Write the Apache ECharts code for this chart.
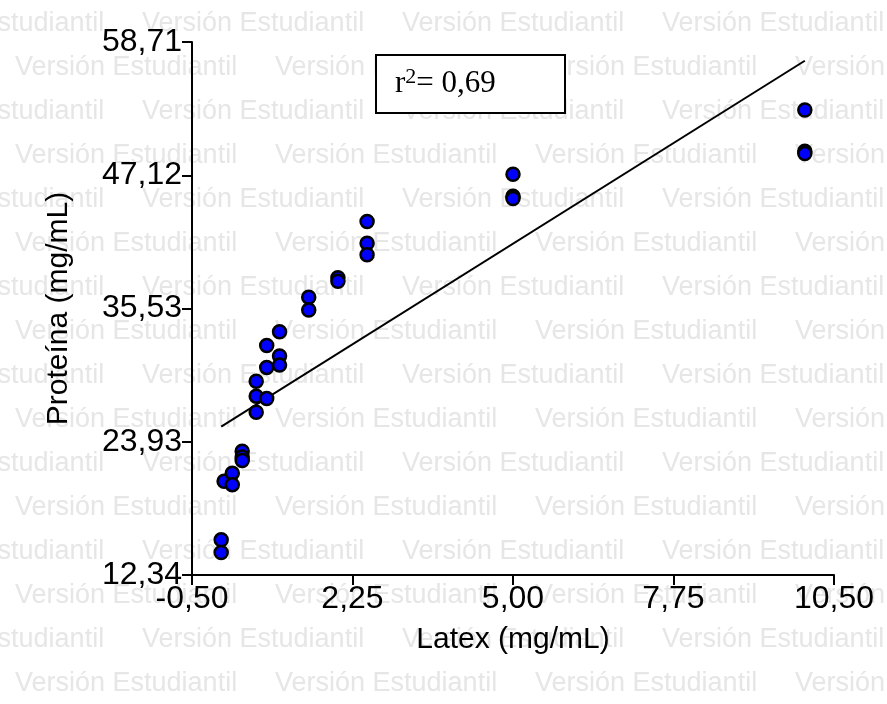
<!DOCTYPE html>
<html>
<head>
	<meta charset="UTF-8">
	<title>Latex vs Proteína</title>
	<script src="https://cdn.jsdelivr.net/npm/echarts@6/dist/echarts.min.js"></script>
	<style>
		html, body { margin: 0; padding: 0; background: #fff; }
		#main { width: 887px; height: 704px; }
	</style>
</head>
<body>
	<div id="main"></div>
	<script>

	// datos
	var xTickLabels = ['-0,50', '2,25', '5,00', '7,75', '10,50'];
	var yTickLabels = ['12,34', '23,93', '35,53', '47,12', '58,71'];

	var latexX   = [0, 0, 0.05, 0.19, 0.19, 0.36, 0.36, 0.36, 0.6, 0.6, 0.6, 0.78, 0.78, 0.78, 1.0, 1.0, 1.0, 1.5, 1.5, 2.0, 2.0, 2.5, 2.5, 2.5, 5.0, 5.0, 5.0, 10.0, 10.0, 10.0];
	var proteinY = [15.4, 14.3, 20.5, 21.2, 20.2, 23.1, 22.6, 22.3, 29.2, 27.9, 26.5, 32.3, 30.4, 27.7, 33.5, 31.4, 30.6, 36.5, 35.4, 38.2, 37.9, 43.1, 41.2, 40.2, 47.2, 45.3, 45.1, 52.8, 49.2, 49.0];

	var fitX = [0, 10];
	var fitY = [25.24, 57.08];

	var xMin = -0.5, xMax = 10.5, xStep = 2.75;
	var yMin = 12.34, yMax = 58.71, yStep = 11.5925;

	var sansFont = '"Liberation Sans", Arial, sans-serif';
	var serifFont = '"Liberation Serif", "Times New Roman", serif';

	var points = [];
	for (var i = 0; i < latexX.length; i++) {
		points.push([latexX[i], proteinY[i]]);
	}
	var fitLine = [];
	for (var i = 0; i < fitX.length; i++) {
		fitLine.push([fitX[i], fitY[i]]);
	}

	// marca de agua
	var marks = [];
	for (var k = 0; k < 16; k++) {
		var y = 24 + 44 * k;
		var x0 = (k % 2 == 0) ? -118 : 15;
		for (var x = x0; x < 887; x += 260) {
			marks.push({
				type: 'text',
				x: x,
				y: y,
				z: -10,
				silent: true,
				style: {
					text: 'Versión Estudiantil',
					font: '27px ' + sansFont,
					fill: '#e6e6e6',
					verticalAlign: 'middle'
				}
			});
		}
	}
	// cuadro del r2
	marks.push({
		type: 'rect',
		z: 10,
		shape: { x: 376, y: 55, width: 189, height: 58 },
		style: { fill: '#fff', stroke: '#000', lineWidth: 2 }
	});
	marks.push({
		type: 'text',
		x: 395,
		y: 66,
		z: 11,
		style: {
			text: '{a|r}{s|2}{a|= 0,69}',
			rich: {
				a: { fontSize: 31, fontFamily: serifFont, fill: '#000', lineHeight: 36 },
				s: { fontSize: 22, fontFamily: serifFont, fill: '#000', lineHeight: 20, verticalAlign: 'top' }
			}
		}
	});

	var myChart = echarts.init(document.getElementById('main'));
	var option = {
		backgroundColor: '#fff',
		animation: false,
		grid: {
			left: 192,
			right: 53,
			top: 42,
			bottom: 129,
			containLabel: false
		},
		xAxis: {
			type: 'value',
			min: xMin,
			max: xMax,
			interval: xStep,
			name: 'Latex (mg/mL)',
			nameLocation: 'middle',
			nameGap: 50,
			nameTextStyle: { color: '#000', fontSize: 30, fontFamily: sansFont },
			axisLine: { show: true, onZero: false, lineStyle: { color: '#000', width: 2 } },
			axisTick: { show: true, length: 10, lineStyle: { color: '#000', width: 2 } },
			splitLine: { show: false },
			axisLabel: {
				color: '#000',
				fontSize: 32,
				fontFamily: sansFont,
				margin: 8,
				formatter: function(v) {
					return xTickLabels[Math.round((v - xMin) / xStep)];
				}
			}
		},
		yAxis: {
			type: 'value',
			min: yMin,
			max: yMax,
			interval: yStep,
			name: 'Proteína (mg/mL)',
			nameLocation: 'middle',
			nameGap: 118,
			nameTextStyle: { color: '#000', fontSize: 30, fontFamily: sansFont },
			axisLine: { show: true, onZero: false, lineStyle: { color: '#000', width: 2 } },
			axisTick: { show: true, length: 10, lineStyle: { color: '#000', width: 2 } },
			splitLine: { show: false },
			axisLabel: {
				color: '#000',
				fontSize: 32,
				fontFamily: sansFont,
				margin: 10,
				formatter: function(v) {
					return yTickLabels[Math.round((v - yMin) / yStep)];
				}
			}
		},
		graphic: { elements: marks },
		series: [
			{
				name: 'ajuste',
				type: 'line',
				data: fitLine,
				showSymbol: false,
				z: 1,
				lineStyle: { color: '#000', width: 2 }
			},
			{
				name: 'datos',
				type: 'scatter',
				data: points,
				symbol: 'circle',
				symbolSize: 13,
				z: 3,
				itemStyle: { color: '#0000ff', borderColor: '#000', borderWidth: 2.5, opacity: 1 }
			}
		]
	};
	myChart.setOption(option);

	</script>
</body>
</html>
